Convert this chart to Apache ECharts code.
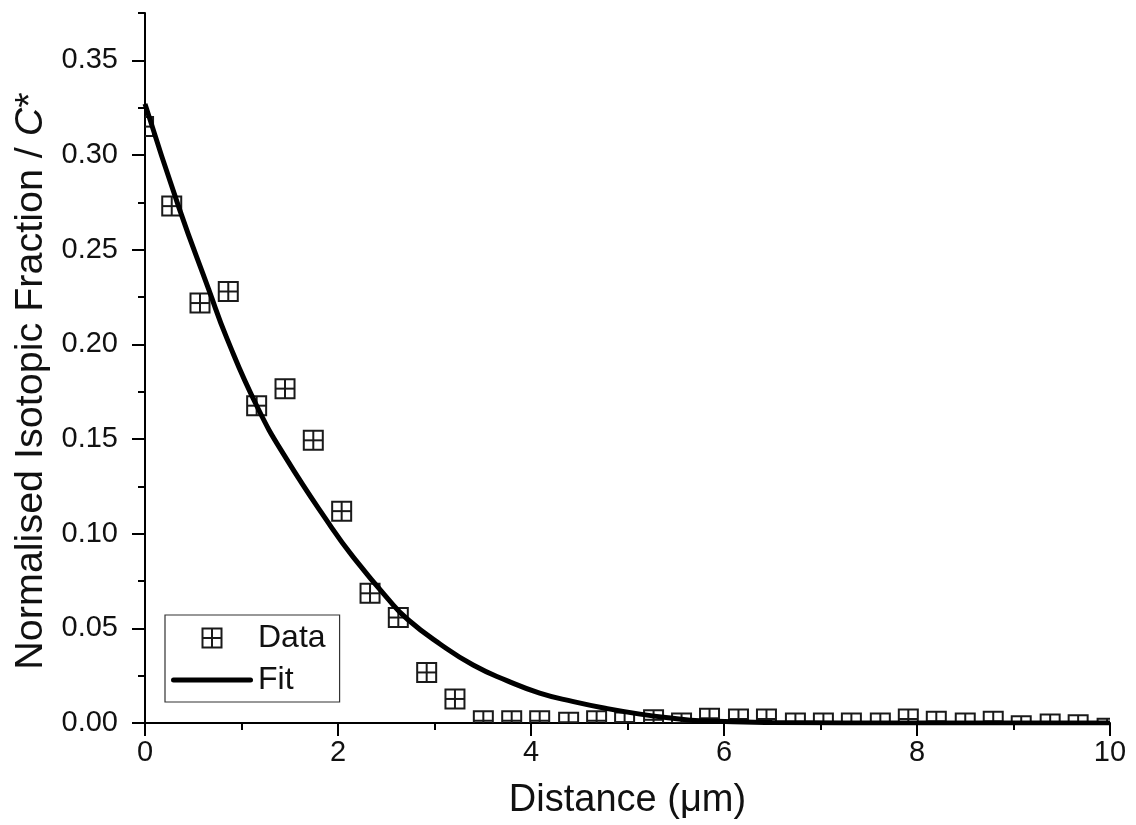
<!DOCTYPE html>
<html><head><meta charset="utf-8">
<script src="https://cdn.jsdelivr.net/npm/echarts@6/dist/echarts.min.js"></script>
<style>html,body{margin:0;padding:0;background:#fff}#c{width:1136px;height:825px}</style>
</head><body><div id="c"></div>
<script>
// Measured data (Distance in µm, normalised isotopic fraction)
const dataX = [-0.015, 0.277, 0.570, 0.863, 1.157, 1.451, 1.744, 2.038, 2.332, 2.625, 2.919, 3.212,
  3.506, 3.80, 4.09, 4.39, 4.68, 4.97, 5.27, 5.56, 5.85, 6.15, 6.44, 6.74, 7.03, 7.32, 7.62, 7.91,
  8.20, 8.50, 8.79, 9.08, 9.38, 9.67, 9.97];
const dataY = [0.315, 0.273, 0.2218, 0.2279, 0.1676, 0.1766, 0.1493, 0.1119, 0.0685, 0.0557, 0.0267, 0.0127,
  0.0012, 0.0012, 0.0012, 0.0004, 0.0012, 0.0005, 0.0017, 0.0000, 0.0025, 0.0021, 0.0021, 0.0000, 0.0000, 0.0000, 0.0000, 0.0021,
  0.0009, 0.0000, 0.0009, -0.0014, -0.0005, -0.0009, -0.0028];
// Fit curve
const fitX = [0, 0.35, 0.66, 0.85, 1.16, 1.45, 1.93, 2.16, 2.52, 2.72, 3.06, 3.40, 3.75, 4.09, 4.44, 4.78, 5.13, 5.47, 5.75, 6.5, 8, 10];
const fitY = [0.327, 0.2725, 0.229, 0.203, 0.1673, 0.1408, 0.1035, 0.0875, 0.0654, 0.0548, 0.0416, 0.0306, 0.0224, 0.0158, 0.0113, 0.0077, 0.0047, 0.0025, 0.0012, 0.0003, 0, 0];
const yTickLabels = [0, 0.05, 0.10, 0.15, 0.20, 0.25, 0.30, 0.35];
const seriesNames = ['Data', 'Fit'];
const xName = 'Distance (\u03bcm)';

const FONT = 'Liberation Sans, Arial, sans-serif';
const MARK = 19;
const INK = '#1a1a1a';

const chart = echarts.init(document.getElementById('c'), null, {renderer: 'canvas'});
chart.setOption({
  backgroundColor: '#fff',
  animation: false,
  grid: {left: 145, right: 26, top: 13, bottom: 101},
  legend: {
    orient: 'vertical', left: 165, top: 615,
    padding: [7, 14, 6, 5], itemGap: 10, itemWidth: 82, itemHeight: 20,
    borderColor: '#333', borderWidth: 1.2, backgroundColor: '#fff',
    selectedMode: false,
    textStyle: {fontSize: 32, color: '#111', fontFamily: FONT},
    data: [
      {name: seriesNames[0], icon: 'path://M0,0M82,20M31.5,0.5H50.5V19.5H31.5Z M41,0.5V19.5 M31.5,10H50.5',
       itemStyle: {color: 'rgba(0,0,0,0)', borderColor: INK, borderWidth: 2}},
      {name: seriesNames[1], icon: 'path://M0,0M82,20M2.5,7.5H79.5A2.5,2.5,0,0,1,79.5,12.5H2.5A2.5,2.5,0,0,1,2.5,7.5Z',
       itemStyle: {color: '#000', borderWidth: 0}}
    ]
  },
  xAxis: {
    type: 'value', min: 0, max: 10, interval: 2,
    name: xName, nameLocation: 'middle', nameGap: 59,
    nameTextStyle: {fontSize: 38, color: '#111', fontFamily: FONT},
    axisLine: {show: true, onZero: false, lineStyle: {color: '#000', width: 2}},
    axisTick: {show: true, length: 13, lineStyle: {color: '#000', width: 2}},
    minorTick: {show: true, splitNumber: 2, length: 7, lineStyle: {color: '#000', width: 2}},
    axisLabel: {fontSize: 29, color: '#111', fontFamily: FONT, margin: 15},
    splitLine: {show: false}
  },
  yAxis: [
    {
      type: 'value', min: 0, max: 0.375, interval: 0.025, position: 'left',
      axisLine: {show: true, onZero: false, lineStyle: {color: '#000', width: 2}},
      axisTick: {show: true, length: 7, lineStyle: {color: '#000', width: 2}},
      axisLabel: {show: false},
      splitLine: {show: false}
    },
    {
      type: 'value', min: 0, max: 0.375, position: 'left', offset: 0,
      name: '{a|Normalised Isotopic Fraction / }{i|C}{a|*}',
      nameLocation: 'middle', nameGap: 92,
      nameTextStyle: {
        fontSize: 39.5, color: '#111', fontFamily: FONT, padding: [0, 26, 0, 0],
        rich: {
          a: {fontSize: 39.5, color: '#111', fontFamily: FONT},
          i: {fontSize: 39.5, color: '#111', fontFamily: FONT, fontStyle: 'italic'}
        }
      },
      axisLine: {show: false},
      axisTick: {show: true, length: 13, customValues: yTickLabels, lineStyle: {color: '#000', width: 2}},
      axisLabel: {fontSize: 29, color: '#111', fontFamily: FONT, margin: 27,
        customValues: yTickLabels, formatter: v => Number(v).toFixed(2)},
      splitLine: {show: false}
    }
  ],
  series: [
    {
      name: seriesNames[0], type: 'custom', clip: true, z: 3,
      data: dataX.map((x, i) => [x, dataY[i]]),
      encode: {x: 0, y: 1},
      renderItem: (params, api) => {
        const p = api.coord([api.value(0), api.value(1)]);
        const h = MARK / 2;
        const st = {stroke: INK, lineWidth: 2, fill: null};
        return {type: 'group', children: [
          {type: 'rect', shape: {x: p[0] - h, y: p[1] - h, width: MARK, height: MARK}, style: st},
          {type: 'line', shape: {x1: p[0], y1: p[1] - h, x2: p[0], y2: p[1] + h}, style: st},
          {type: 'line', shape: {x1: p[0] - h, y1: p[1], x2: p[0] + h, y2: p[1]}, style: st}
        ]};
      }
    },
    {
      name: seriesNames[1], type: 'line', symbol: 'none', clip: true, z: 4,
      smooth: 0.5,
      data: fitX.map((x, i) => [x, fitY[i]]),
      lineStyle: {color: '#000', width: 5}
    }
  ]
});
</script>
</body></html>
